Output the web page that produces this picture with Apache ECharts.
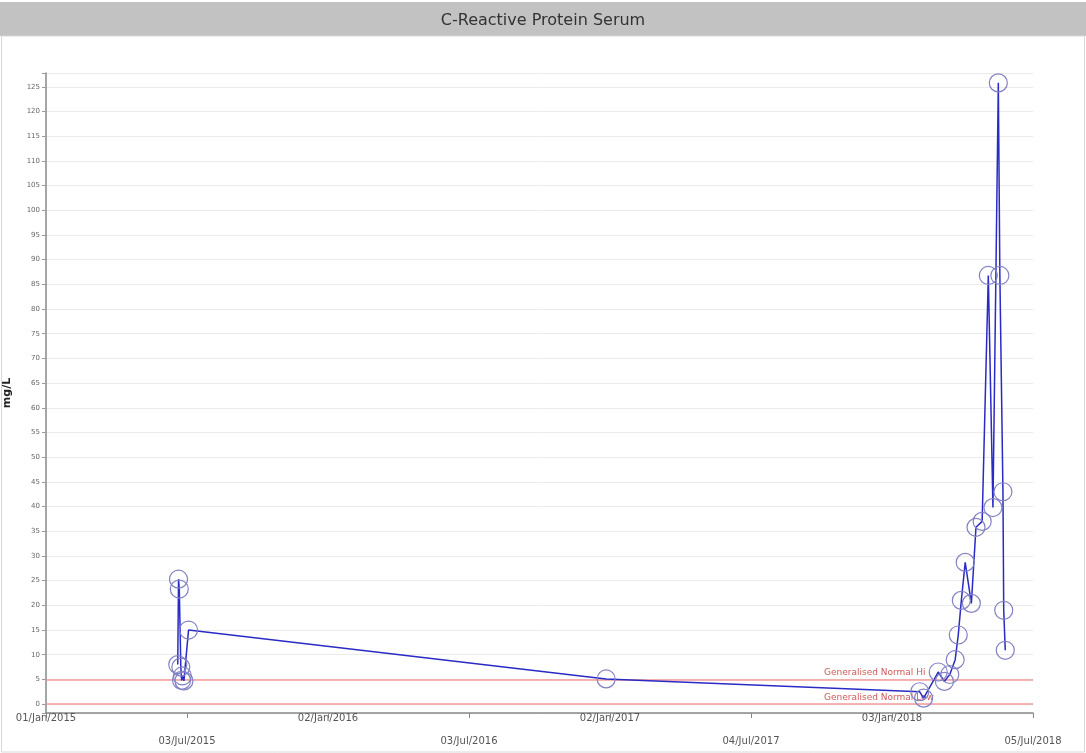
<!DOCTYPE html>
<html>
<head>
<meta charset="utf-8">
<title>C-Reactive Protein Serum</title>
<script src="https://cdn.jsdelivr.net/npm/echarts@6/dist/echarts.min.js"></script>
<style>
  html, body { margin: 0; padding: 0; background: #fff; }
  #main { width: 1086px; height: 753px; }
</style>
</head>
<body>
<div id="main"></div>
<script>
// sample dates and CRP results (mg/L)
var sampleDates = [
  '2015-06-21', '2015-06-22', '2015-06-23', '2015-06-25', '2015-06-26', '2015-06-27', '2015-06-29', '2015-07-05',
  '2016-12-28',
  '2018-02-08', '2018-02-13', '2018-03-04', '2018-03-12', '2018-03-19', '2018-03-26', '2018-03-30',
  '2018-04-03', '2018-04-08', '2018-04-16', '2018-04-22', '2018-04-30', '2018-05-08', '2018-05-14',
  '2018-05-21', '2018-05-23', '2018-05-27', '2018-05-28', '2018-05-30'
];
var crpValues = [
  8, 25.3, 23.3, 7.5, 4.8, 5.7, 4.7, 15,
  5.1,
  2.5, 1.2, 6.5, 4.6, 6, 9, 14,
  21, 28.7, 20.4, 35.8, 37, 86.8, 39.8,
  125.8, 86.8, 43, 19, 10.9
];
// x axis tick labels (every 183 days from 01/Jan/2015)
var xTickLabels = ['01/Jan/2015', '03/Jul/2015', '02/Jan/2016', '03/Jul/2016',
  '02/Jan/2017', '04/Jul/2017', '03/Jan/2018', '05/Jul/2018'];
// reference ranges
var refLines = [
  { name: 'Generalised Normal Hi', value: 5 },
  { name: 'Generalised Normal Low', value: 0 }
];

var DAY = 86400000;
function toTs(s) {
  var p = s.split('-');
  return Date.UTC(+p[0], +p[1] - 1, +p[2]);
}
var xMin = toTs('2015-01-01');
var xMax = xMin + 183 * 7 * DAY;

var seriesData = sampleDates.map(function (d, i) {
  return [toTs(d), crpValues[i]];
});

var chart = echarts.init(document.getElementById('main'));
var option = {
  backgroundColor: '#fff',
  animation: false,
  textStyle: { fontFamily: 'DejaVu Sans, Verdana, sans-serif' },
  title: {
    text: 'C-Reactive Protein Serum',
    left: 'center',
    top: 8,
    textStyle: { fontSize: 16, fontWeight: 'normal', color: '#333' }
  },
  graphic: [
    {
      type: 'rect', z: -10, silent: true,
      shape: { x: 0, y: 2, width: 1086, height: 34 },
      style: { fill: '#c2c2c2' }
    },
    {
      type: 'rect', z: -10, silent: true,
      shape: { x: 1.5, y: 36, width: 1083, height: 716 },
      style: { fill: 'none', stroke: '#d8d8d8', lineWidth: 1 }
    }
  ],
  grid: { left: 46, right: 53, top: 73, bottom: 40, containLabel: false, outerBoundsMode: 'none' },
  xAxis: {
    type: 'value',
    min: xMin,
    max: xMax,
    interval: 183 * DAY,
    axisLine: { onZero: false, lineStyle: { color: '#888', width: 1.5 } },
    axisTick: { length: 5, lineStyle: { color: '#888' } },
    splitLine: { show: false },
    axisLabel: {
      fontSize: 10,
      color: '#555',
      lineHeight: 11.5,
      margin: 0,
      formatter: function (v, idx) {
        var i = Math.round((v - xMin) / (183 * DAY));
        var t = xTickLabels[i] || '';
        return i % 2 === 1 ? '\n\n' + t : t;
      }
    }
  },
  yAxis: {
    type: 'value',
    min: -1.8,
    max: 127.8,
    splitNumber: 26,
    name: 'mg/L',
    nameLocation: 'middle',
    nameGap: 33,
    nameRotate: 90,
    nameTextStyle: { fontSize: 11, fontWeight: 'bold', color: '#222' },
    axisLine: { show: true, onZero: false, lineStyle: { color: '#888', width: 1.5 } },
    axisTick: { show: true, length: 4, lineStyle: { color: '#999' } },
    axisLabel: {
      fontSize: 7,
      color: '#666',
      margin: 6,
      formatter: function (v) { return Math.abs(v % 5) < 1e-6 ? String(Math.round(v)) : ''; }
    },
    splitLine: { lineStyle: { color: '#ebebeb', width: 1 } }
  },
  series: [
    {
      type: 'line',
      data: seriesData,
      symbol: 'circle',
      symbolSize: 18,
      clip: false,
      lineStyle: { color: '#2a2ac4', width: 1.5 },
      itemStyle: { color: 'rgba(0,0,0,0)', borderColor: '#8282c4', borderWidth: 1.2 },
      z: 5,
      markLine: {
        silent: true,
        symbol: 'none',
        animation: false,
        lineStyle: { color: '#f29a9a', width: 1.5, type: 'solid', opacity: 1 },
        label: {
          position: 'insideStartTop',
          color: '#d05a5a',
          fontSize: 9,
          padding: [0, 0, 0, 776],
          distance: 2,
          formatter: '{b}'
        },
        data: refLines.map(function (r) {
          return { name: r.name, yAxis: r.value };
        })
      }
    }
  ]
};
chart.setOption(option);
</script>
</body>
</html>
